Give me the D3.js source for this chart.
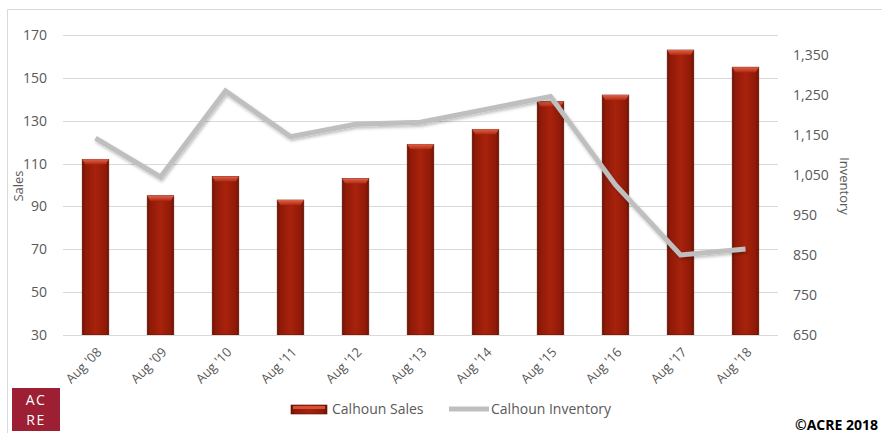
<!DOCTYPE html>
<html><head><meta charset="utf-8">
<script src="https://cdn.jsdelivr.net/npm/d3@7"></script>
<style>
body{margin:0;background:#fff;}
svg{display:block;font-family:"Open Sans",sans-serif;}
</style></head>
<body><svg id="c" width="882" height="433"></svg>
<script>
const categories = ["Aug '08","Aug '09","Aug '10","Aug '11","Aug '12","Aug '13","Aug '14","Aug '15","Aug '16","Aug '17","Aug '18"];
const salesValues = [112,95,104,93,103,119,126,139,142,163,155];
const inventoryValues = [1142,1045,1260,1146,1177,1182,1214,1246,1025,850,865];
const leftTicks = [30,50,70,90,110,130,150,170];
const rightTicks = [650,750,850,950,1050,1150,1250,1350];
const seriesNames = ["Calhoun Sales","Calhoun Inventory"];

const svg = d3.select("#c");
const m = {l:63, r:778, t:35, b:335};
const x = d3.scaleBand().domain(categories).range([m.l,m.r]).paddingInner(0.59).paddingOuter(0.295);
const yL = d3.scaleLinear().domain([30,170]).range([m.b,m.t]);
const yR = d3.scaleLinear().domain([650,1400]).range([m.b,m.t]);

const defs = svg.append("defs");
const g1 = defs.append("linearGradient").attr("id","barG").attr("x1","0").attr("x2","1").attr("y1","0").attr("y2","0");
g1.append("stop").attr("offset","0").attr("stop-color","#6e1206");
g1.append("stop").attr("offset","0.12").attr("stop-color","#8f1a08");
g1.append("stop").attr("offset","0.5").attr("stop-color","#a8220c");
g1.append("stop").attr("offset","0.88").attr("stop-color","#8f1a08");
g1.append("stop").attr("offset","1").attr("stop-color","#6e1206");
const g2 = defs.append("linearGradient").attr("id","capG").attr("x1","0").attr("x2","0").attr("y1","0").attr("y2","1");
g2.append("stop").attr("offset","0").attr("stop-color","#e0634a");
g2.append("stop").attr("offset","1").attr("stop-color","#b12a12");
const f = defs.append("filter").attr("id","sh").attr("x","-10%").attr("y","-10%").attr("width","120%").attr("height","130%");
f.append("feDropShadow").attr("dx",1).attr("dy",2).attr("stdDeviation",1.5).attr("flood-color","#000").attr("flood-opacity",0.25);

// outer frame
svg.append("path").attr("d","M7.5,433 V9.5 H882").attr("fill","none").attr("stroke","#d9d9d9").attr("stroke-width",1);

// gridlines
svg.append("g").selectAll("line").data(leftTicks).join("line")
  .attr("x1",m.l).attr("x2",m.r).attr("y1",d=>Math.round(yL(d))+0.5).attr("y2",d=>Math.round(yL(d))+0.5)
  .attr("stroke","#d9d9d9").attr("stroke-width",1);

// left axis
const axL = svg.append("g").attr("transform",`translate(${m.l},0)`)
  .call(d3.axisLeft(yL).tickValues(leftTicks).tickSize(0).tickPadding(16));
axL.select(".domain").remove();
axL.selectAll("text").attr("font-size",14).attr("fill","#595959").style("font-family","'Open Sans',sans-serif");

// right axis
const axR = svg.append("g").attr("transform",`translate(${m.r},0)`)
  .call(d3.axisRight(yR).tickValues(rightTicks).tickSize(0).tickPadding(15).tickFormat(d3.format(",")));
axR.select(".domain").remove();
axR.selectAll("text").attr("font-size",14).attr("fill","#595959").style("font-family","'Open Sans',sans-serif");

// bars
const bars = svg.append("g");
bars.selectAll("rect.bar").data(salesValues).join("rect").attr("class","bar")
  .attr("x",(d,i)=>x(categories[i])).attr("width",x.bandwidth())
  .attr("y",d=>yL(d)).attr("height",d=>yL(30)-yL(d))
  .attr("fill","url(#barG)").attr("stroke","#5e1005").attr("stroke-width",0.6);
bars.selectAll("path.cap").data(salesValues).join("path").attr("class","cap")
  .attr("d",(d,i)=>{const x0=x(categories[i]),w=x.bandwidth(),y0=yL(d);
    return `M${x0},${y0} H${x0+w} L${x0+w-3},${y0+5} H${x0+3} Z`;})
  .attr("fill","url(#capG)");

// bottom axis line
svg.append("line").attr("x1",m.l).attr("x2",m.r).attr("y1",m.b+0.5).attr("y2",m.b+0.5).attr("stroke","#d9d9d9");

// line
const line = d3.line().x((d,i)=>x(categories[i])+x.bandwidth()/2).y(d=>yR(d));
svg.append("path").datum(inventoryValues).attr("d",line)
  .attr("fill","none").attr("stroke","#bfbfbf").attr("stroke-width",5).attr("stroke-linejoin","miter").attr("filter","url(#sh)");

// x labels
svg.append("g").selectAll("text").data(categories).join("text")
  .attr("transform",d=>`translate(${x(d)+x.bandwidth()/2+7},${m.b+18}) rotate(-45)`)
  .attr("text-anchor","end").attr("font-size",13).attr("fill","#595959").text(d=>d);

// axis titles
svg.append("text").attr("transform","translate(23,186) rotate(-90)").attr("text-anchor","middle")
  .attr("font-size",13).attr("fill","#595959").text("Sales");
svg.append("text").attr("transform","translate(840,186) rotate(90)").attr("text-anchor","middle")
  .attr("font-size",13).attr("fill","#595959").text("Inventory");

// legend
const lg = svg.append("g");
lg.append("rect").attr("x",291).attr("y",405).attr("width",36).attr("height",9).attr("fill","url(#barG)").attr("stroke","#5e1005").attr("stroke-width",0.6);
lg.append("rect").attr("x",293).attr("y",406).attr("width",32).attr("height",3).attr("fill","#d65038");
lg.append("text").attr("x",332).attr("y",414).attr("font-size",14).attr("fill","#595959").text(seriesNames[0]);
lg.append("line").attr("x1",449).attr("x2",489).attr("y1",409).attr("y2",409).attr("stroke","#bfbfbf").attr("stroke-width",5);
lg.append("text").attr("x",491).attr("y",414).attr("font-size",14).attr("fill","#595959").text(seriesNames[1]);

// logo
svg.append("rect").attr("x",12).attr("y",388).attr("width",48).attr("height",43).attr("fill","#9c1f34");
svg.append("text").attr("x",36).attr("y",405).attr("text-anchor","middle").attr("font-size",14).attr("letter-spacing",1.5).attr("fill","#fff").text("AC");
svg.append("text").attr("x",36).attr("y",425).attr("text-anchor","middle").attr("font-size",14).attr("letter-spacing",1.5).attr("fill","#fff").text("RE");

// copyright
svg.append("text").attr("x",878).attr("y",430).attr("text-anchor","end").attr("font-size",14).attr("font-weight","bold").attr("fill","#000").text("©ACRE 2018");
</script></body></html>
